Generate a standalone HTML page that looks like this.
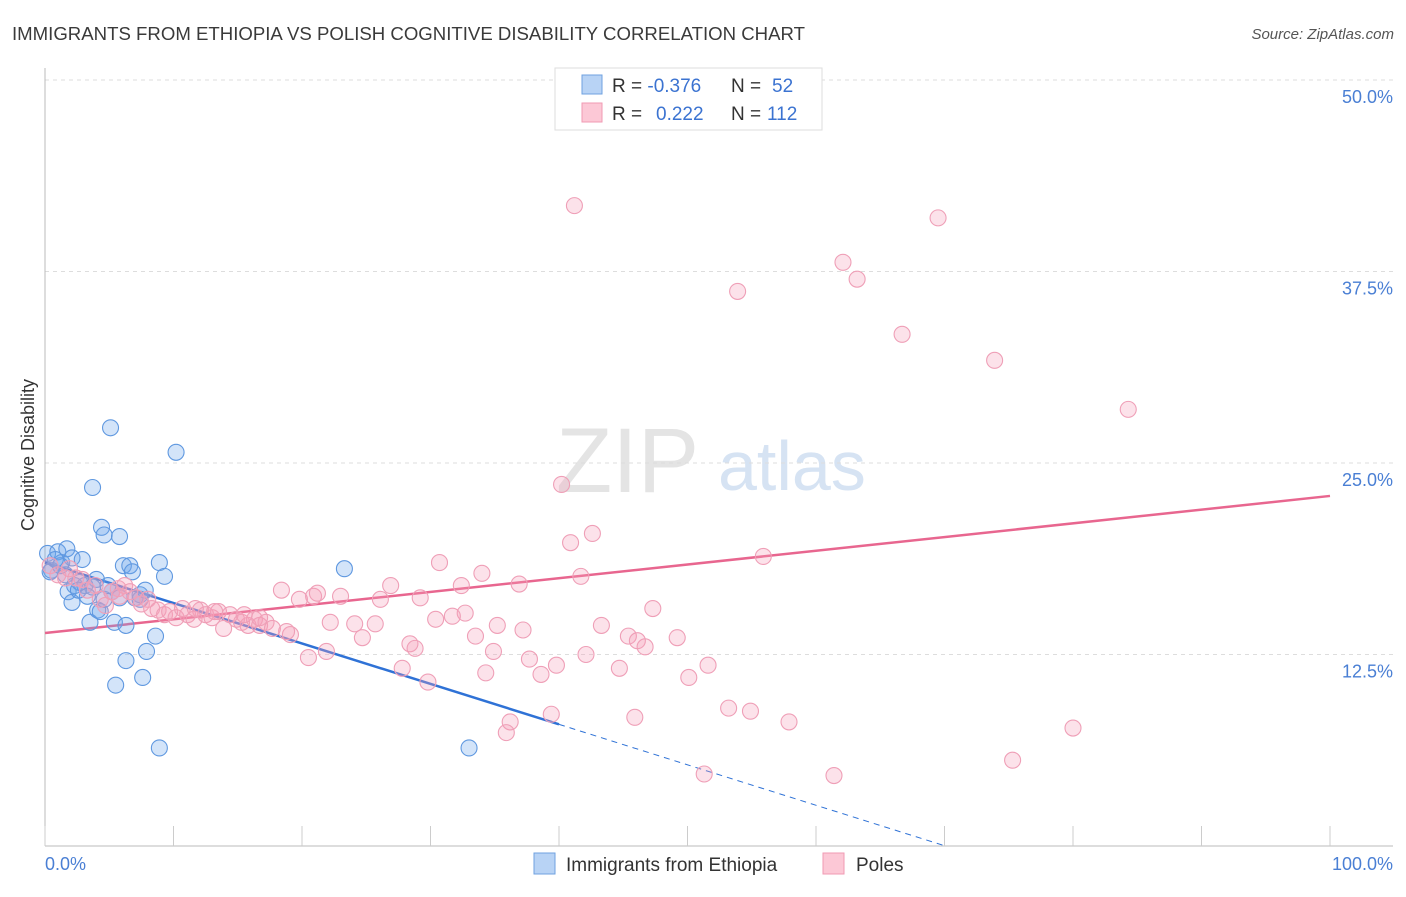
<!DOCTYPE html>
<html><head><meta charset="utf-8"><style>
body{margin:0;background:#fff;font-family:"Liberation Sans",sans-serif;}
svg text{font-family:"Liberation Sans",sans-serif;}
</style></head><body>
<svg id="chart" width="1406" height="892" xmlns="http://www.w3.org/2000/svg">
<text x="12" y="40" font-size="18" fill="#3a3a3a" textLength="793" lengthAdjust="spacingAndGlyphs">IMMIGRANTS FROM ETHIOPIA VS POLISH COGNITIVE DISABILITY CORRELATION CHART</text>
<text x="1394" y="39" font-size="15" font-style="italic" fill="#555" text-anchor="end">Source: ZipAtlas.com</text>
<g>
<text x="556" y="492" font-size="92" font-family="Liberation Serif" fill="#e4e4e4">ZIP</text>
<text x="718" y="490" font-size="70" fill="#d6e3f3">atlas</text>
</g>
<g id="grid"></g>
<g id="axes"></g>
<g id="lines"></g>
<g id="blue"></g>
<g id="pink"></g>
<text transform="translate(34,455) rotate(-90)" font-size="18" fill="#333" text-anchor="middle">Cognitive Disability</text>
<g>
<rect x="555" y="68" width="267" height="62" fill="#fff" stroke="#ddd"/>
<rect x="582" y="75" width="20" height="19" fill="#b8d3f5" stroke="#6fa2e0"/>
<rect x="582" y="103" width="20" height="19" fill="#fcc8d6" stroke="#f09ab3"/>
<text x="612" y="92" font-size="19" fill="#333">R = <tspan fill="#3b73d1">-0.376</tspan><tspan x="731">N = </tspan><tspan x="772" fill="#3b73d1">52</tspan></text>
<text x="612" y="120" font-size="19" fill="#333">R = <tspan x="656" fill="#3b73d1">0.222</tspan><tspan x="731">N = </tspan><tspan x="767" fill="#3b73d1">112</tspan></text>
</g>
<g>
<rect x="534" y="853" width="21" height="21" fill="#b8d3f5" stroke="#6fa2e0"/>
<text x="566" y="871" font-size="19" fill="#333">Immigrants from Ethiopia</text>
<rect x="823" y="853" width="21" height="21" fill="#fcc8d6" stroke="#f09ab3"/>
<text x="856" y="871" font-size="19" fill="#333">Poles</text>
</g>
</svg>
<script>
const blueX=[0.2,0.5,1.0,1.3,1.7,2.1,0.4,1.2,1.8,2.3,2.1,2.7,3.1,3.5,4.0,4.1,4.3,3.7,4.6,5.1,3.7,4.4,4.6,5.8,6.1,6.6,6.8,5.4,5.2,5.8,6.3,7.0,7.4,7.8,8.9,9.3,8.6,7.9,6.3,5.5,7.6,10.2,8.9,23.3,33.0,2.9,0.8,1.6,2.6,3.3,4.9,7.4];
const blueY=[19.1,18.0,19.2,18.5,19.4,18.8,17.9,18.3,16.6,17.0,15.9,17.2,17.0,14.6,17.4,15.4,15.3,16.9,16.1,27.3,23.4,20.8,20.3,20.2,18.3,18.3,17.9,14.6,16.6,16.2,14.4,16.2,16.4,16.7,18.5,17.6,13.7,12.7,12.1,10.5,11.0,25.7,6.4,18.1,6.4,18.7,18.7,17.7,16.7,16.3,17.0,16.1];
const pinkX=[41.2,69.5,62.1,63.2,53.9,66.7,73.9,84.3,40.2,42.6,40.9,55.9,30.7,34.0,41.7,36.9,32.4,26.9,18.4,20.9,21.2,23.0,26.1,29.2,19.8,47.3,32.7,31.7,30.4,22.2,24.1,25.7,35.2,43.3,45.4,46.1,49.2,33.5,37.2,24.7,19.1,28.4,28.8,46.7,34.9,20.5,21.9,37.7,39.8,42.1,44.7,51.6,27.8,34.3,38.6,50.1,29.8,53.2,54.9,45.9,39.4,36.2,35.9,57.9,80.0,75.3,51.3,61.4,0.4,1.0,1.6,1.9,2.4,2.9,3.3,3.9,4.3,4.7,5.2,5.7,6.2,6.6,7.1,7.5,8.0,8.3,8.8,9.3,9.7,10.2,10.7,11.1,11.6,12.1,12.5,13.0,13.5,13.9,14.4,14.9,15.3,15.8,16.3,16.7,17.2,17.7,16.7,18.8,13.2,15.5,11.7,5.8];
const pinkY=[41.8,41.0,38.1,37.0,36.2,33.4,31.7,28.5,23.6,20.4,19.8,18.9,18.5,17.8,17.6,17.1,17.0,17.0,16.7,16.3,16.5,16.3,16.1,16.2,16.1,15.5,15.2,15.0,14.8,14.6,14.5,14.5,14.4,14.4,13.7,13.4,13.6,13.7,14.1,13.6,13.8,13.2,12.9,13.0,12.7,12.3,12.7,12.2,11.8,12.5,11.6,11.8,11.6,11.3,11.2,11.0,10.7,9.0,8.8,8.4,8.6,8.1,7.4,8.1,7.7,5.6,4.7,4.6,18.3,17.7,17.5,18.1,17.5,17.4,16.7,17.0,16.1,15.7,16.6,16.8,17.0,16.6,16.2,15.8,16.1,15.5,15.4,15.1,15.3,14.9,15.5,15.1,14.8,15.4,15.1,14.9,15.3,14.2,15.1,14.8,14.6,14.4,14.8,14.4,14.6,14.2,14.9,14.0,15.3,15.1,15.5,16.3];
const blueTrend=[18.5,-0.264];
const pinkTrend=[13.9,0.0895];
const yTicks=[12.5,25.0,37.5,50.0];
const yTickLabels=["12.5%","25.0%","37.5%","50.0%"];
const xTicks=[0,10,20,30,40,50,60,70,80,90,100];

const NS="http://www.w3.org/2000/svg";
const X=v=>45+v*12.85, Y=v=>846-v*15.32;
function mk(tag,at,parent){const e=document.createElementNS(NS,tag);for(const k in at)e.setAttribute(k,at[k]);parent.appendChild(e);return e;}
const grid=document.getElementById('grid'),axes=document.getElementById('axes');
yTicks.forEach((t,i)=>{
 const g=mk('line',{x1:45,x2:1393,y1:Y(t),y2:Y(t),stroke:'#ddd','stroke-dasharray':'4,4'},grid);
 
 
 const l=mk('text',{x:1393,y:Y(t)+23,'font-size':18,fill:'#4a7fd4','text-anchor':'end'},axes);
 l.textContent=yTickLabels[i];
 
 
});
mk('line',{x1:45,x2:45,y1:68,y2:846,stroke:'#bbb'},axes);
const xa=mk('line',{x1:45,x2:1393,y1:846,y2:846,stroke:'#bbb'},axes);


xTicks.forEach(t=>{const k=mk('line',{x1:X(t),x2:X(t),y1:826,y2:846,stroke:'#ccc'},axes);
 
 });
let t0=mk('text',{x:45,y:870,'font-size':18,fill:'#4a7fd4'},axes);t0.textContent='0.0%';


let t1=mk('text',{x:1393,y:870,'font-size':18,fill:'#4a7fd4','text-anchor':'end'},axes);t1.textContent='100.0%';


function dots(xs,ys,g,fill,stroke,name){xs.forEach((x,i)=>{const c=mk('circle',{cx:X(x),cy:Y(ys[i]),r:8,fill:fill,stroke:stroke,'stroke-width':1.1},g);
 
 });}
dots(blueX,blueY,document.getElementById('blue'),'rgba(110,165,235,0.3)','#5f98e0','ethiopia-point');
dots(pinkX,pinkY,document.getElementById('pink'),'rgba(245,160,185,0.3)','#ef9fb7','poles-point');
const L=document.getElementById('lines');
const bEnd=40, bZero=-blueTrend[0]/blueTrend[1];
const b1=mk('line',{x1:X(0),y1:Y(blueTrend[0]),x2:X(bEnd),y2:Y(blueTrend[0]+blueTrend[1]*bEnd),stroke:'#2f72d6','stroke-width':2.5},L);


const b2=mk('line',{x1:X(bEnd),y1:Y(blueTrend[0]+blueTrend[1]*bEnd),x2:X(bZero),y2:Y(0),stroke:'#2f72d6','stroke-width':1,'stroke-dasharray':'6,5'},L);


const p1=mk('line',{x1:X(0),y1:Y(pinkTrend[0]),x2:X(100),y2:Y(pinkTrend[0]+pinkTrend[1]*100),stroke:'#e8668f','stroke-width':2.5},L);


</script>
</body></html>
